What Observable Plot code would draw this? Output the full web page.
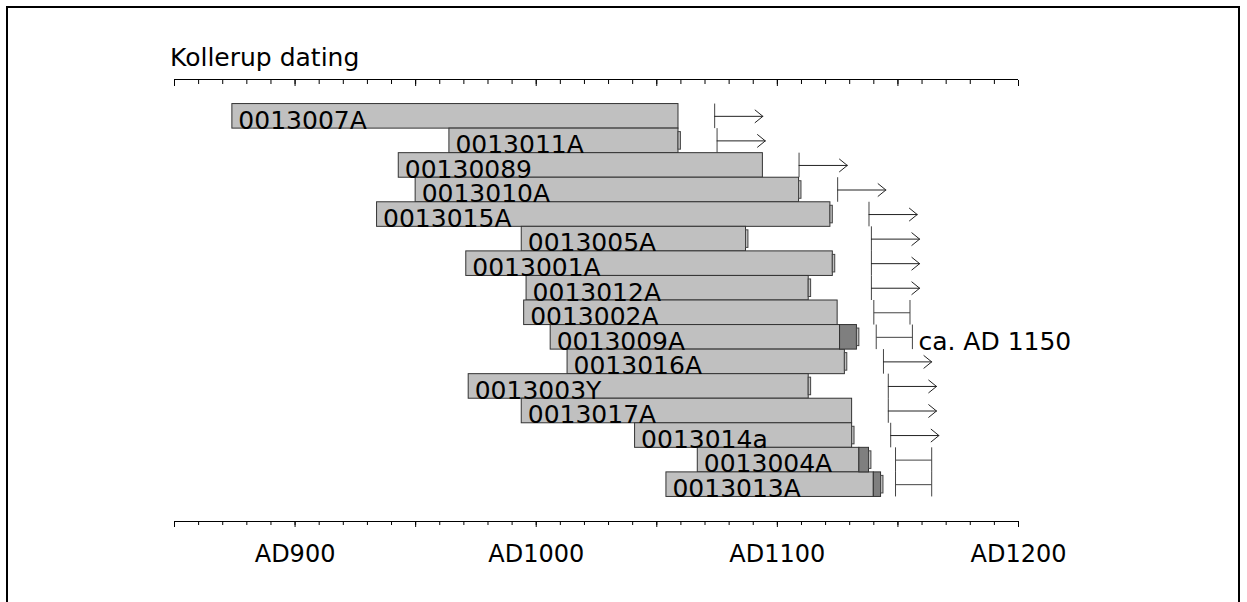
<!DOCTYPE html>
<html>
<head>
<meta charset="utf-8">
<script src="https://cdn.jsdelivr.net/npm/d3@7"></script>
<script src="https://cdn.jsdelivr.net/npm/@observablehq/plot@0.6"></script>
<style>
  html, body { margin: 0; padding: 0; overflow: hidden; background: #fff; }
  #wrap { position: relative; width: 1247px; height: 602px; overflow: hidden; }
  #box { position: absolute; left: 6px; top: 6px; right: 7px; height: 800px; border: 2px solid #000; box-sizing: border-box; }
  #title { position: absolute; left: 170px; top: 46px; font: 25px "DejaVu Sans", sans-serif; line-height: 24px; color: #000; white-space: nowrap; }
  #chart { position: absolute; left: 0; top: 0; }
</style>
</head>
<body>
<div id="wrap">
  <div id="box"></div>
  <div id="chart"></div>
  <div id="title"></div>
</div>
<script>
// ---- data ----
const title = "Kollerup dating";
const names = ["0013007A","0013011A","00130089","0013010A","0013015A","0013005A","0013001A","0013012A",
               "0013002A","0013009A","0013016A","0013003Y","0013017A","0013014a","0013004A","0013013A"];
const startYear = [874, 964, 943, 950, 934, 994, 971, 996, 995, 1006, 1013, 972, 994, 1041, 1067, 1054];
const heartEnd  = [1059, 1059, 1094, 1109, 1122, 1087, 1123, 1113, 1125, 1126, 1128, 1113, 1131, 1131, 1134, 1140];
const sapEnd    = [null, null, null, null, null, null, null, null, null, 1133, null, null, null, null, 1138, 1143];
const barkEdge  = [false, true, false, true, true, true, true, true, false, true, true, true, false, true, true, true];
const fellStart = [1074, 1075, 1109, 1125, 1138, 1139, 1139, 1139, 1140, 1141, 1144, 1146, 1146, 1147, 1149, 1149];
const fellEnd   = [null, null, null, null, null, null, null, null, 1155, 1156, null, null, null, null, 1164, 1164];
const noteNames = ["0013009A"];
const noteTexts = ["ca. AD 1150"];
const minorTicks = d3.range(850, 1201, 10);
const majorTicks = d3.range(850, 1201, 50);
const labelTicks = [900, 1000, 1100, 1200];
const tickLabel = d => "AD" + d;
const arrowYears = 20;   // length of "felled after" arrows
const stubYears = 1;     // width of bark-edge marker

// ---- table ----
const rows = names.map((name, i) => ({
  name, i,
  start: startYear[i],
  end: heartEnd[i],
  sap: sapEnd[i],
  outer: sapEnd[i] ?? heartEnd[i],
  bark: barkEdge[i],
  fs: fellStart[i],
  fe: fellEnd[i]
}));
const notes = noteNames.map((n, k) => ({...rows.find(r => r.name === n), note: noteTexts[k]}));
const yDomain = [-1, names.length + 1];
const FONT = "DejaVu Sans";

document.getElementById("title").textContent = title;

const chart = Plot.plot({
  width: 1247,
  height: 602,
  marginLeft: 174,
  marginRight: 229,
  marginTop: 79,
  marginBottom: 81,
  style: {fontFamily: FONT, fontSize: "24px", background: "transparent", color: "#000"},
  x: {domain: [850, 1200], label: null},
  y: {domain: yDomain, reverse: true, axis: null},
  marks: [
    Plot.rect(rows, {x1: "start", x2: "end", y1: "i", y2: d => d.i + 1, fill: "#c0c0c0", stroke: "#333", strokeWidth: 1}),
    Plot.rect(rows.filter(d => d.sap != null), {x1: "end", x2: "sap", y1: "i", y2: d => d.i + 1, fill: "#7f7f7f", stroke: "#333", strokeWidth: 1}),
    Plot.rect(rows.filter(d => d.bark), {x1: "outer", x2: d => d.outer + stubYears, y1: "i", y2: d => d.i + 1, insetTop: 3.5, insetBottom: 3.5, fill: "#c0c0c0", stroke: "#444", strokeWidth: 1}),
    Plot.text(rows, {x: "start", y: d => d.i + 1, text: "name", textAnchor: "start", lineAnchor: "bottom", dx: 6, fontSize: 25, fill: "#000"}),
    Plot.ruleX(rows, {x: "fs", y1: "i", y2: d => d.i + 1, stroke: "#444", strokeWidth: 1}),
    Plot.ruleX(rows.filter(d => d.fe != null), {x: "fe", y1: "i", y2: d => d.i + 1, stroke: "#444", strokeWidth: 1}),
    Plot.link(rows.filter(d => d.fe != null), {x1: "fs", x2: "fe", y1: d => d.i + 0.5, y2: d => d.i + 0.5, stroke: "#444", strokeWidth: 1}),
    Plot.arrow(rows.filter(d => d.fe == null), {x1: "fs", x2: d => d.fs + arrowYears, y1: d => d.i + 0.5, y2: d => d.i + 0.5, stroke: "#222", strokeWidth: 1, headLength: 15, headAngle: 78}),
    Plot.text(notes, {x: "fe", y: d => d.i + 1, text: "note", textAnchor: "start", lineAnchor: "bottom", dx: 6, fontSize: 25, fill: "#000"}),
    Plot.ruleY(yDomain, {stroke: "#000", strokeWidth: 1}),
    Plot.axisX({anchor: "bottom", ticks: minorTicks, tickSize: 4, tickFormat: () => "", label: null}),
    Plot.axisX({anchor: "bottom", ticks: majorTicks, tickSize: 6, tickFormat: () => "", label: null}),
    Plot.axisX({anchor: "top", ticks: minorTicks, tickSize: -4, tickFormat: () => "", label: null}),
    Plot.axisX({anchor: "top", ticks: majorTicks, tickSize: -6, tickFormat: () => "", label: null}),
    Plot.axisX({anchor: "bottom", ticks: labelTicks, tickSize: 0, tickPadding: 23, tickFormat: tickLabel, fontSize: 24, label: null})
  ]
});
document.getElementById("chart").appendChild(chart);
</script>
</body>
</html>
